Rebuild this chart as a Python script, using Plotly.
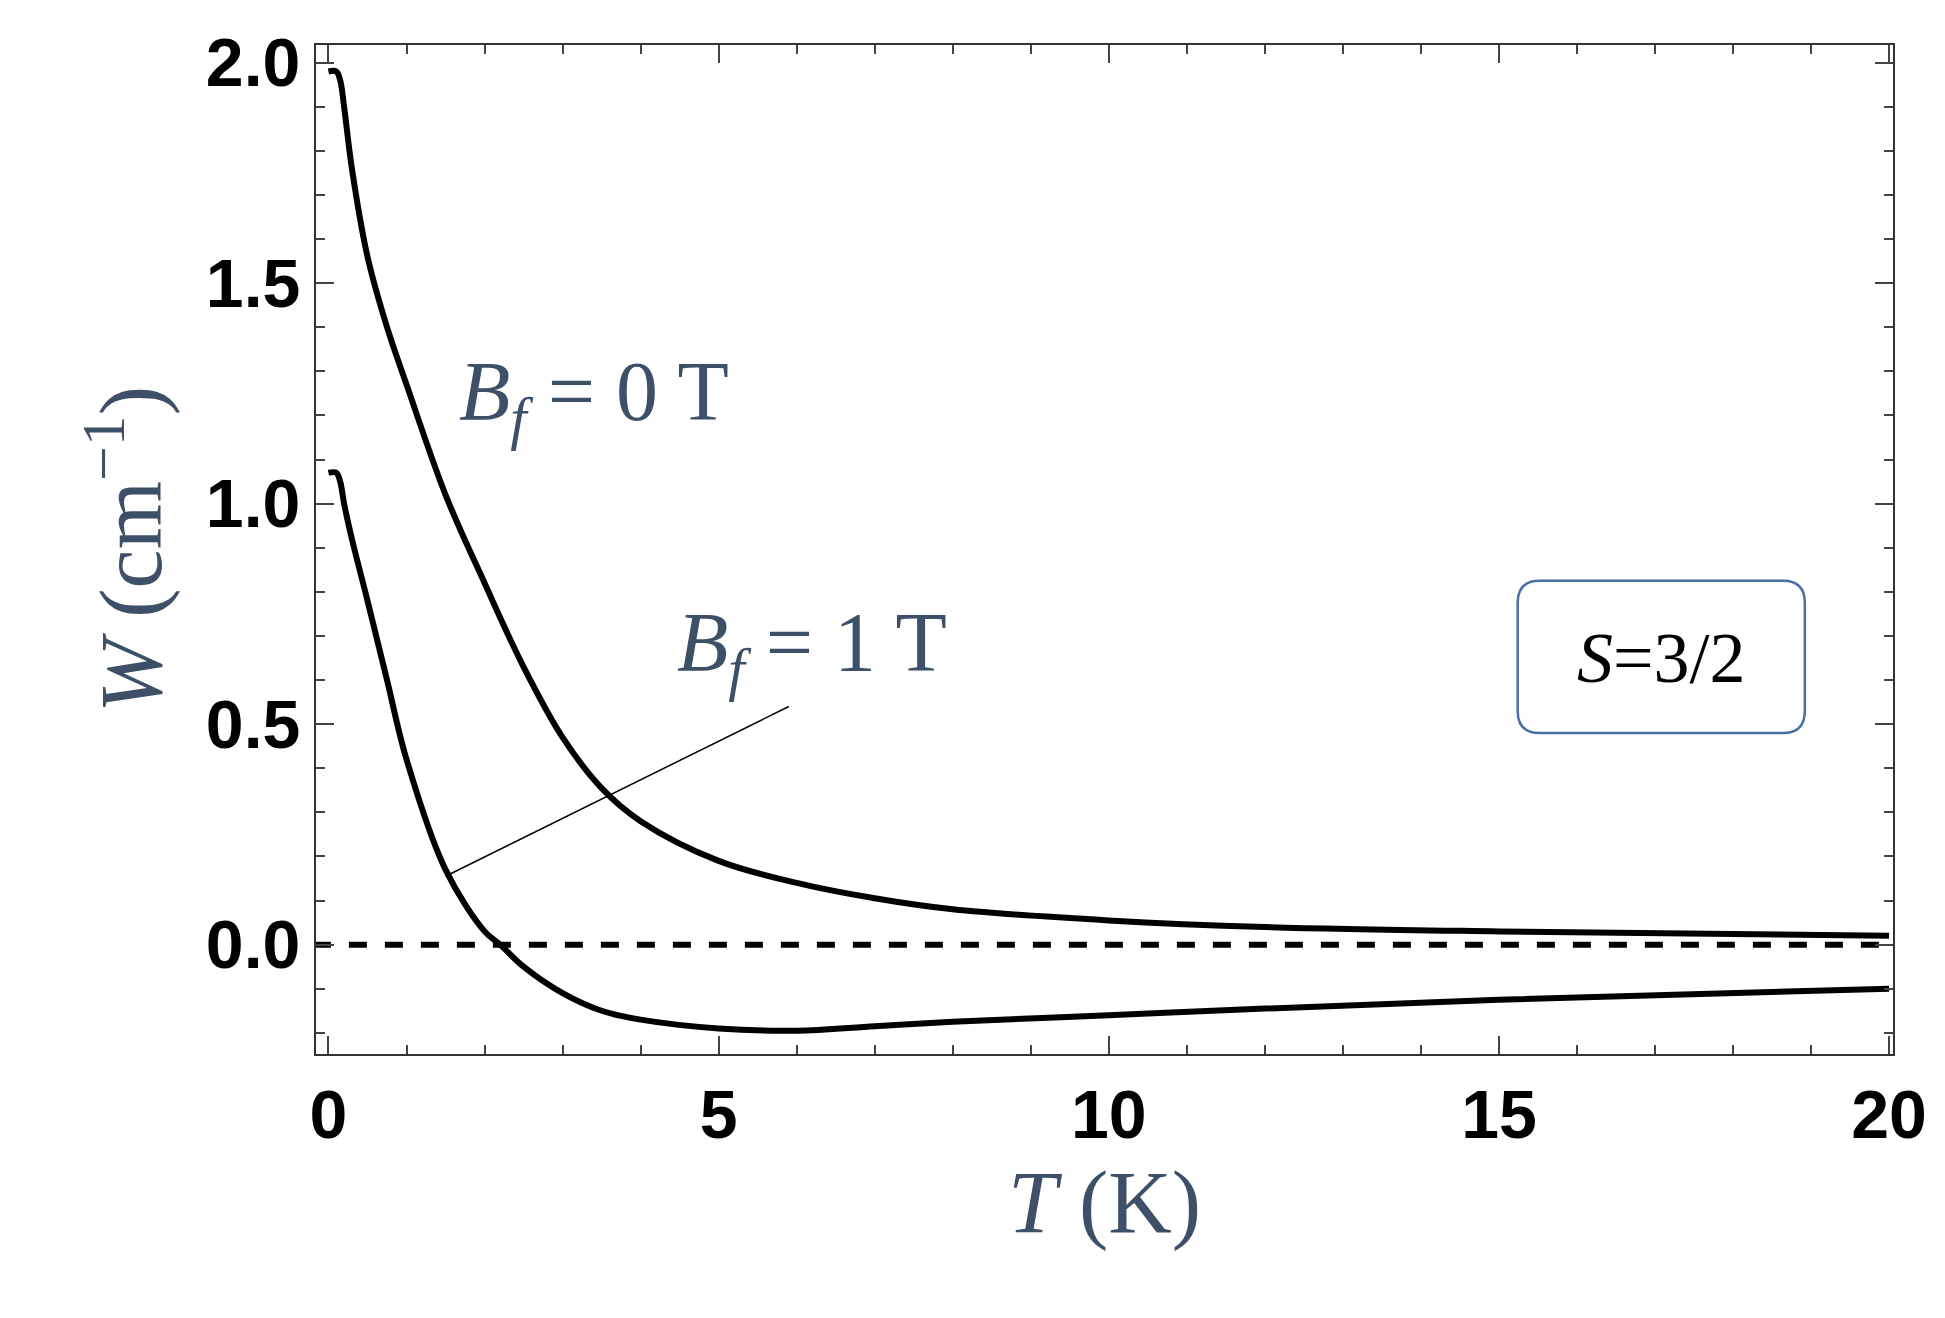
import plotly.graph_objects as go

T0 = [0, 0.1, 0.15, 0.2, 0.3, 0.5, 0.75, 1, 1.5, 2, 2.5, 3, 3.5, 4, 5, 6, 7, 8, 10, 12, 15, 20]
W0 = [1.98, 1.98, 1.96, 1.90, 1.76, 1.56, 1.40, 1.27, 1.02, 0.82, 0.63, 0.47, 0.355, 0.28, 0.19, 0.14, 0.105, 0.08, 0.055, 0.04, 0.03, 0.02]
T1 = [0, 0.1, 0.15, 0.2, 0.3, 0.5, 0.75, 1, 1.5, 2, 2.2, 2.5, 3, 3.5, 4, 5, 6, 7, 8, 10, 12, 15, 20]
W1 = [1.07, 1.07, 1.05, 1.00, 0.92, 0.78, 0.60, 0.42, 0.17, 0.03, 0.0, -0.05, -0.11, -0.15, -0.17, -0.19, -0.195, -0.185, -0.175, -0.16, -0.145, -0.125, -0.10]
xticks = [0, 5, 10, 15, 20]
yticks = [0.0, 0.5, 1.0, 1.5, 2.0]

lab = "#3d5068"
fig = go.Figure()
fig.add_trace(go.Scatter(x=[-0.2, 20.2], y=[0, 0], mode="lines", line=dict(color="black", width=6, dash="dash")))
fig.add_trace(go.Scatter(x=T0, y=W0, mode="lines", line=dict(color="black", width=6, shape="spline", smoothing=1.0)))
fig.add_trace(go.Scatter(x=T1, y=W1, mode="lines", line=dict(color="black", width=6, shape="spline", smoothing=1.0)))
fig.add_trace(go.Scatter(x=[1.5, 5.9], y=[0.155, 0.54], mode="lines", line=dict(color="black", width=1.5)))

axfont = dict(family="Liberation Sans", size=68, color="black")
common = dict(ticks="inside", ticklen=18, tickwidth=2, mirror="ticks", showline=True, linecolor="#333",
              linewidth=2, showgrid=False, zeroline=False, tickfont=axfont)
fig.update_xaxes(range=[-0.16, 20.05], tickvals=xticks, ticktext=["<b>%d</b>" % v for v in xticks],
                 minor=dict(dtick=1, ticks="inside", ticklen=9, tickwidth=1.5),
                 title=dict(text="<i>T</i> (K)", font=dict(family="Liberation Serif", size=88, color=lab), standoff=20),
                 **common)
fig.update_yaxes(range=[-0.248, 2.04], tickvals=yticks, ticktext=["<b>%.1f</b>" % v for v in yticks],
                 minor=dict(dtick=0.1, ticks="inside", ticklen=9, tickwidth=1.5),
                 title=dict(text="<i>W</i> (cm<sup>−1</sup>)", font=dict(family="Liberation Serif", size=88, color=lab), standoff=15),
                 **common)
fig.add_annotation(x=3.4, y=1.24, text="<i>B<sub>f</sub></i> = 0 T", showarrow=False,
                   font=dict(family="Liberation Serif", size=84, color=lab))
fig.add_annotation(x=6.2, y=0.67, text="<i>B<sub>f</sub></i> = 1 T", showarrow=False,
                   font=dict(family="Liberation Serif", size=84, color=lab))
x0, x1, y0, y1, rx, ry = 15.24, 18.92, 0.48, 0.825, 0.28, 0.05
path = (f"M {x0+rx},{y0} L {x1-rx},{y0} Q {x1},{y0} {x1},{y0+ry} L {x1},{y1-ry} Q {x1},{y1} {x1-rx},{y1} "
        f"L {x0+rx},{y1} Q {x0},{y1} {x0},{y1-ry} L {x0},{y0+ry} Q {x0},{y0} {x0+rx},{y0} Z")
fig.add_shape(type="path", path=path, xref="x", yref="y", line=dict(color="#4a6fa5", width=2.5), fillcolor="white")
fig.add_annotation(x=17.08, y=0.65, text="<i>S</i>=3/2", showarrow=False,
                   font=dict(family="Liberation Serif", size=72, color="black"))
fig.update_layout(width=1945, height=1318, showlegend=False, plot_bgcolor="white", paper_bgcolor="white",
                  margin=dict(l=308, r=60, t=37, b=272))
fig.write_html("out.html")
